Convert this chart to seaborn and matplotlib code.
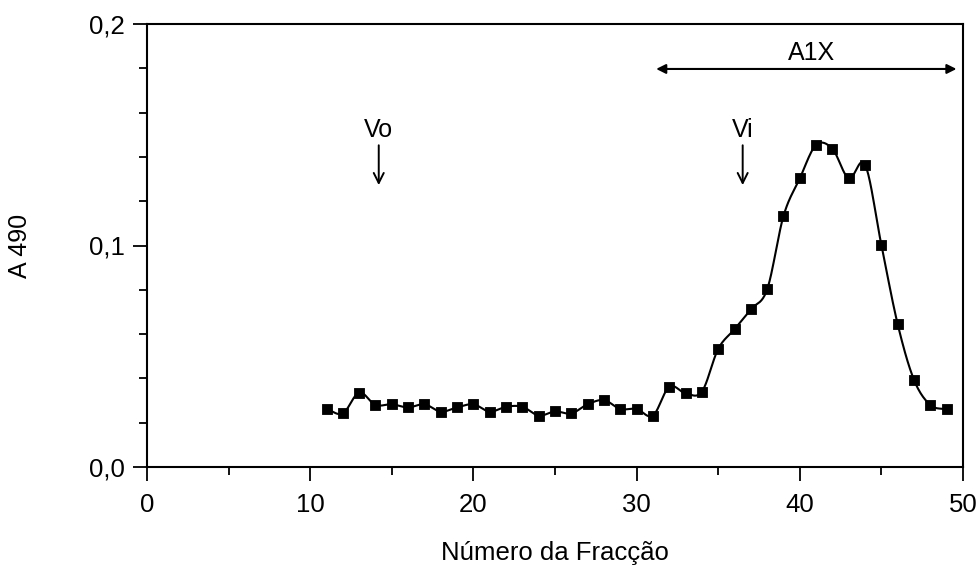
import numpy as np
import pandas as pd
import matplotlib
matplotlib.use("Agg")
import matplotlib.pyplot as plt
import seaborn as sns

# ---- data ----
fractions = list(range(11, 50))
absorbance = [0.0262, 0.0242, 0.0336, 0.0280, 0.0283, 0.0269, 0.0283, 0.0250,
              0.0269, 0.0283, 0.0250, 0.0272, 0.0272, 0.0232, 0.0251, 0.0242,
              0.0283, 0.0302, 0.0262, 0.0262, 0.0232, 0.0362, 0.0333, 0.0340,
              0.0533, 0.0622, 0.0712, 0.0802, 0.1133, 0.1303, 0.1454, 0.1436,
              0.1303, 0.1365, 0.1002, 0.0644, 0.0393, 0.0280, 0.0260]
x_ticks = [0, 10, 20, 30, 40, 50]
y_ticks = [0.0, 0.1, 0.2]
y_tick_labels = ["0,0", "0,1", "0,2"]
x_label = "Número da Fracção"
y_label = "A 490"
vo_pos, vi_pos = 14.2, 36.5
a1x_range = (31.2, 49.6)

sns.set_style("ticks")
plt.rcParams["font.family"] = ["Liberation Sans", "DejaVu Sans"]
plt.rcParams["text.color"] = "black"
plt.rcParams["axes.labelcolor"] = "black"

fig = plt.figure(figsize=(9.79, 5.65), dpi=100)
ax = fig.add_axes([147 / 979, 98 / 565, 816 / 979, 443 / 565])

# smoothed curve (Catmull-Rom through the measured points)
xs = np.array(fractions, dtype=float)
ys = np.array(absorbance, dtype=float)
px = np.concatenate([[2 * xs[0] - xs[1]], xs, [2 * xs[-1] - xs[-2]]])
py = np.concatenate([[2 * ys[0] - ys[1]], ys, [2 * ys[-1] - ys[-2]]])
sx, sy = [], []
t = np.linspace(0, 1, 20, endpoint=False)
for i in range(1, len(px) - 2):
    p0, p1, p2, p3 = py[i - 1], py[i], py[i + 1], py[i + 2]
    yy = 0.5 * ((2 * p1) + (-p0 + p2) * t + (2 * p0 - 5 * p1 + 4 * p2 - p3) * t ** 2
                + (-p0 + 3 * p1 - 3 * p2 + p3) * t ** 3)
    sx.extend(px[i] + (px[i + 1] - px[i]) * t)
    sy.extend(yy)
sx.append(xs[-1]); sy.append(ys[-1])
curve = pd.DataFrame({"x": sx, "y": sy})
sns.lineplot(data=curve, x="x", y="y", sort=False, color="black", linewidth=1.5, ax=ax)

pts = pd.DataFrame({"fraction": fractions, "A490": absorbance})
sns.scatterplot(data=pts, x="fraction", y="A490", marker="s", s=42, color="black",
                edgecolor="black", linewidth=0.6, ax=ax, zorder=3)

ax.set_xlim(0, 50)
ax.set_ylim(0, 0.2)
ax.set_xticks(x_ticks)
ax.set_xticks(np.arange(5, 50, 10), minor=True)
ax.set_yticks(y_ticks)
ax.set_yticklabels(y_tick_labels)
ax.set_yticks(np.arange(0.02, 0.2, 0.02), minor=True)
ax.tick_params(axis="both", which="major", length=10, width=1.3, labelsize=18.5,
               direction="out", colors="black", labelcolor="black", pad=6)
ax.tick_params(axis="both", which="minor", length=5.5, width=1.3, direction="out",
               colors="black")
ax.tick_params(axis="x", which="major", pad=9)
for sp in ax.spines.values():
    sp.set_visible(True)
    sp.set_linewidth(1.5)
    sp.set_color("black")

ax.set_xlabel(x_label, fontsize=18.5, color="black")
ax.set_ylabel(y_label, fontsize=18, color="black")
ax.xaxis.set_label_coords(0.5, -0.168)
ax.yaxis.set_label_coords(-0.141, 0.5)

arrow_kw = dict(arrowstyle="->", color="black", lw=1.4, mutation_scale=18)
ax.annotate("", xy=(vo_pos, 0.126), xytext=(vo_pos, 0.1465), arrowprops=arrow_kw)
ax.annotate("", xy=(vi_pos, 0.126), xytext=(vi_pos, 0.1465), arrowprops=arrow_kw)
ax.text(vo_pos, 0.152, "Vo", ha="center", va="center", fontsize=18)
ax.text(vi_pos, 0.152, "Vi", ha="center", va="center", fontsize=18)
ax.annotate("", xy=(a1x_range[0], 0.1797), xytext=(a1x_range[1], 0.1797),
            arrowprops=dict(arrowstyle="<|-|>", color="black", lw=1.5,
                            mutation_scale=14, shrinkA=0, shrinkB=0))
ax.text(40.7, 0.187, "A1X", ha="center", va="center", fontsize=18)

fig.savefig("out.png", dpi=100)
